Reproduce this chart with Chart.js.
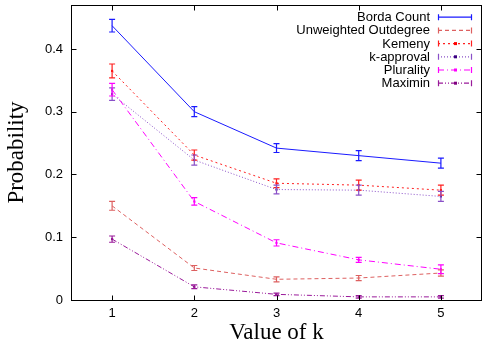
<!DOCTYPE html>
<html>
<head>
<meta charset="utf-8">
<script src="https://cdn.jsdelivr.net/npm/chart.js@4"></script>
<style>
  html, body { margin: 0; padding: 0; background: #fff; }
  canvas { display: block; }
</style>
</head>
<body>
<canvas id="chartCanvas" width="486" height="348"></canvas>
<script>
"use strict";

const kValues = [1, 2, 3, 4, 5];
const xTickValues = [1, 2, 3, 4, 5];
const yTickValues = [0, 0.1, 0.2, 0.3, 0.4];

const seriesNames = ["Borda Count", "Unweighted Outdegree", "Kemeny", "k-approval", "Plurality", "Maximin"];

const bordaCount = [0.437, 0.300, 0.242, 0.230, 0.218];
const bordaErr = [0.010, 0.008, 0.007, 0.008, 0.008];

const unweightedOutdegree = [0.150, 0.051, 0.033, 0.035, 0.043];
const unweightedErr = [0.007, 0.004, 0.004, 0.004, 0.005];

const kemeny = [0.365, 0.231, 0.186, 0.183, 0.175];
const kemenyErr = [0.011, 0.008, 0.007, 0.008, 0.008];

const kApproval = [0.328, 0.223, 0.176, 0.175, 0.165];
const kApprovalErr = [0.010, 0.008, 0.007, 0.008, 0.008];

const plurality = [0.335, 0.157, 0.091, 0.064, 0.049];
const pluralityErr = [0.010, 0.006, 0.005, 0.004, 0.007];

const maximin = [0.097, 0.021, 0.009, 0.005, 0.005];
const maximinErr = [0.005, 0.003, 0.002, 0.002, 0.002];

function toPoints(values) {
  return kValues.map((k, i) => ({ x: k, y: values[i] }));
}

// estilo de cada serie (color y patrón de línea, como en gnuplot)
const styles = [
  { color: "#1a1aff", dash: [], point: "#0000ff", radius: 0 },
  { color: "#dd6060", dash: [4, 3], point: "#dd6060", radius: 0 },
  { color: "#ff2020", dash: [2, 3], point: "#ff0000", radius: 1.5 },
  { color: "#8a50c8", dash: [1, 2], point: "#3a0080", radius: 1.5 },
  { color: "#ff00ff", dash: [6, 3, 1, 3], point: "#ff00ff", radius: 1.5 },
  { color: "#9a1a9a", dash: [5, 2, 1, 2, 1, 2], point: "#800080", radius: 1.5 }
];

const allValues = [bordaCount, unweightedOutdegree, kemeny, kApproval, plurality, maximin];
const allErrors = [bordaErr, unweightedErr, kemenyErr, kApprovalErr, pluralityErr, maximinErr];

const datasets = seriesNames.map((name, i) => ({
  label: name,
  data: toPoints(allValues[i]),
  borderColor: styles[i].color,
  backgroundColor: styles[i].point,
  borderDash: styles[i].dash,
  borderWidth: 1,
  pointRadius: styles[i].radius,
  pointStyle: "rect",
  pointBorderWidth: 0,
  tension: 0,
  fill: false
}));

// barras de error, marco, marcas de ejes hacia dentro y leyenda
const gnuplotLook = {
  id: "gnuplotLook",
  afterDatasetsDraw(chart) {
    const ctx = chart.ctx;
    const xs = chart.scales.x;
    const ys = chart.scales.y;
    const area = chart.chartArea;

    ctx.save();
    ctx.setLineDash([]);
    ctx.lineWidth = 1.2;
    allValues.forEach((values, s) => {
      ctx.strokeStyle = styles[s].color;
      values.forEach((v, i) => {
        const e = allErrors[s][i];
        const px = xs.getPixelForValue(kValues[i]);
        const y1 = ys.getPixelForValue(v - e);
        const y2 = ys.getPixelForValue(v + e);
        ctx.beginPath();
        ctx.moveTo(px, y1);
        ctx.lineTo(px, y2);
        ctx.moveTo(px - 3, y1);
        ctx.lineTo(px + 3, y1);
        ctx.moveTo(px - 3, y2);
        ctx.lineTo(px + 3, y2);
        ctx.stroke();
      });
    });

    // marco
    ctx.lineWidth = 1;
    ctx.strokeStyle = "#000";
    const l = Math.round(area.left) + 0.5;
    const r = Math.round(area.right) - 0.5;
    const t = Math.round(area.top) + 0.5;
    const b = Math.round(area.bottom) + 0.5;
    ctx.strokeRect(l, t, r - l, b - t);

    ctx.beginPath();
    xTickValues.forEach(v => {
      const px = Math.round(xs.getPixelForValue(v)) + 0.5;
      ctx.moveTo(px, b);
      ctx.lineTo(px, b - 5);
      ctx.moveTo(px, t);
      ctx.lineTo(px, t + 5);
    });
    yTickValues.forEach(v => {
      const py = Math.round(ys.getPixelForValue(v)) + 0.5;
      ctx.moveTo(l, py);
      ctx.lineTo(l + 5, py);
      ctx.moveTo(r, py);
      ctx.lineTo(r - 5, py);
    });
    ctx.stroke();

    // leyenda
    ctx.font = "13px 'Liberation Sans', Arial, sans-serif";
    ctx.textAlign = "right";
    ctx.textBaseline = "middle";
    ctx.lineWidth = 1.2;
    const rowY = [17.2, 30.4, 43.6, 56.8, 70, 83.2];
    seriesNames.forEach((name, i) => {
      const y = rowY[i];
      ctx.fillStyle = "#000";
      ctx.fillText(name, 430, y + 0.5);
      ctx.strokeStyle = styles[i].color;
      ctx.setLineDash(styles[i].dash);
      ctx.beginPath();
      ctx.moveTo(438, y);
      ctx.lineTo(472, y);
      ctx.stroke();
      ctx.setLineDash([]);
      ctx.beginPath();
      ctx.moveTo(438.5, y - 3);
      ctx.lineTo(438.5, y + 3);
      ctx.moveTo(471.5, y - 3);
      ctx.lineTo(471.5, y + 3);
      ctx.stroke();
      if (styles[i].radius > 0) {
        ctx.fillStyle = styles[i].point;
        ctx.fillRect(454, y - 1.5, 3, 3);
      }
    });
    ctx.restore();
  }
};

document.addEventListener("DOMContentLoaded", () => {
  const ctx = document.querySelector("#chartCanvas").getContext("2d");

  new Chart(ctx, {
    type: "line",
    data: { datasets },
    plugins: [gnuplotLook],
    options: {
      responsive: false,
      animation: false,
      devicePixelRatio: 1,
      layout: { padding: { top: 5, right: 1, left: 0, bottom: 0 } },
      plugins: {
        legend: { display: false },
        tooltip: { enabled: false }
      },
      scales: {
        x: {
          type: "linear",
          min: 0.5,
          max: 5.5,
          afterBuildTicks: scale => {
            scale.ticks = xTickValues.map(v => ({ value: v }));
          },
          afterFit: scale => {
            scale.height = 48;
            scale.paddingLeft = 0;
            scale.paddingRight = 0;
          },
          grid: { display: false, drawTicks: false },
          border: { display: false },
          ticks: {
            color: "#000",
            padding: 6,
            maxRotation: 0,
            font: { family: "'Liberation Sans', Arial, sans-serif", size: 13 }
          },
          title: {
            display: true,
            text: "Value of k",
            color: "#000",
            padding: { top: 0, bottom: 1 },
            font: { family: "'Liberation Serif', 'Times New Roman', serif", size: 23 }
          }
        },
        y: {
          type: "linear",
          min: 0,
          max: 0.47,
          afterBuildTicks: scale => {
            scale.ticks = yTickValues.map(v => ({ value: v }));
          },
          afterFit: scale => {
            scale.width = 71;
            scale.paddingTop = 0;
            scale.paddingBottom = 0;
          },
          grid: { display: false, drawTicks: false },
          border: { display: false },
          ticks: {
            color: "#000",
            padding: 8,
            callback: v => String(Math.round(v * 10) / 10),
            font: { family: "'Liberation Sans', Arial, sans-serif", size: 13 }
          },
          title: {
            display: true,
            text: "Probability",
            color: "#000",
            padding: { top: 3, bottom: 0 },
            font: { family: "'Liberation Serif', 'Times New Roman', serif", size: 23 }
          }
        }
      }
    }
  });
});
</script>
</body>
</html>
